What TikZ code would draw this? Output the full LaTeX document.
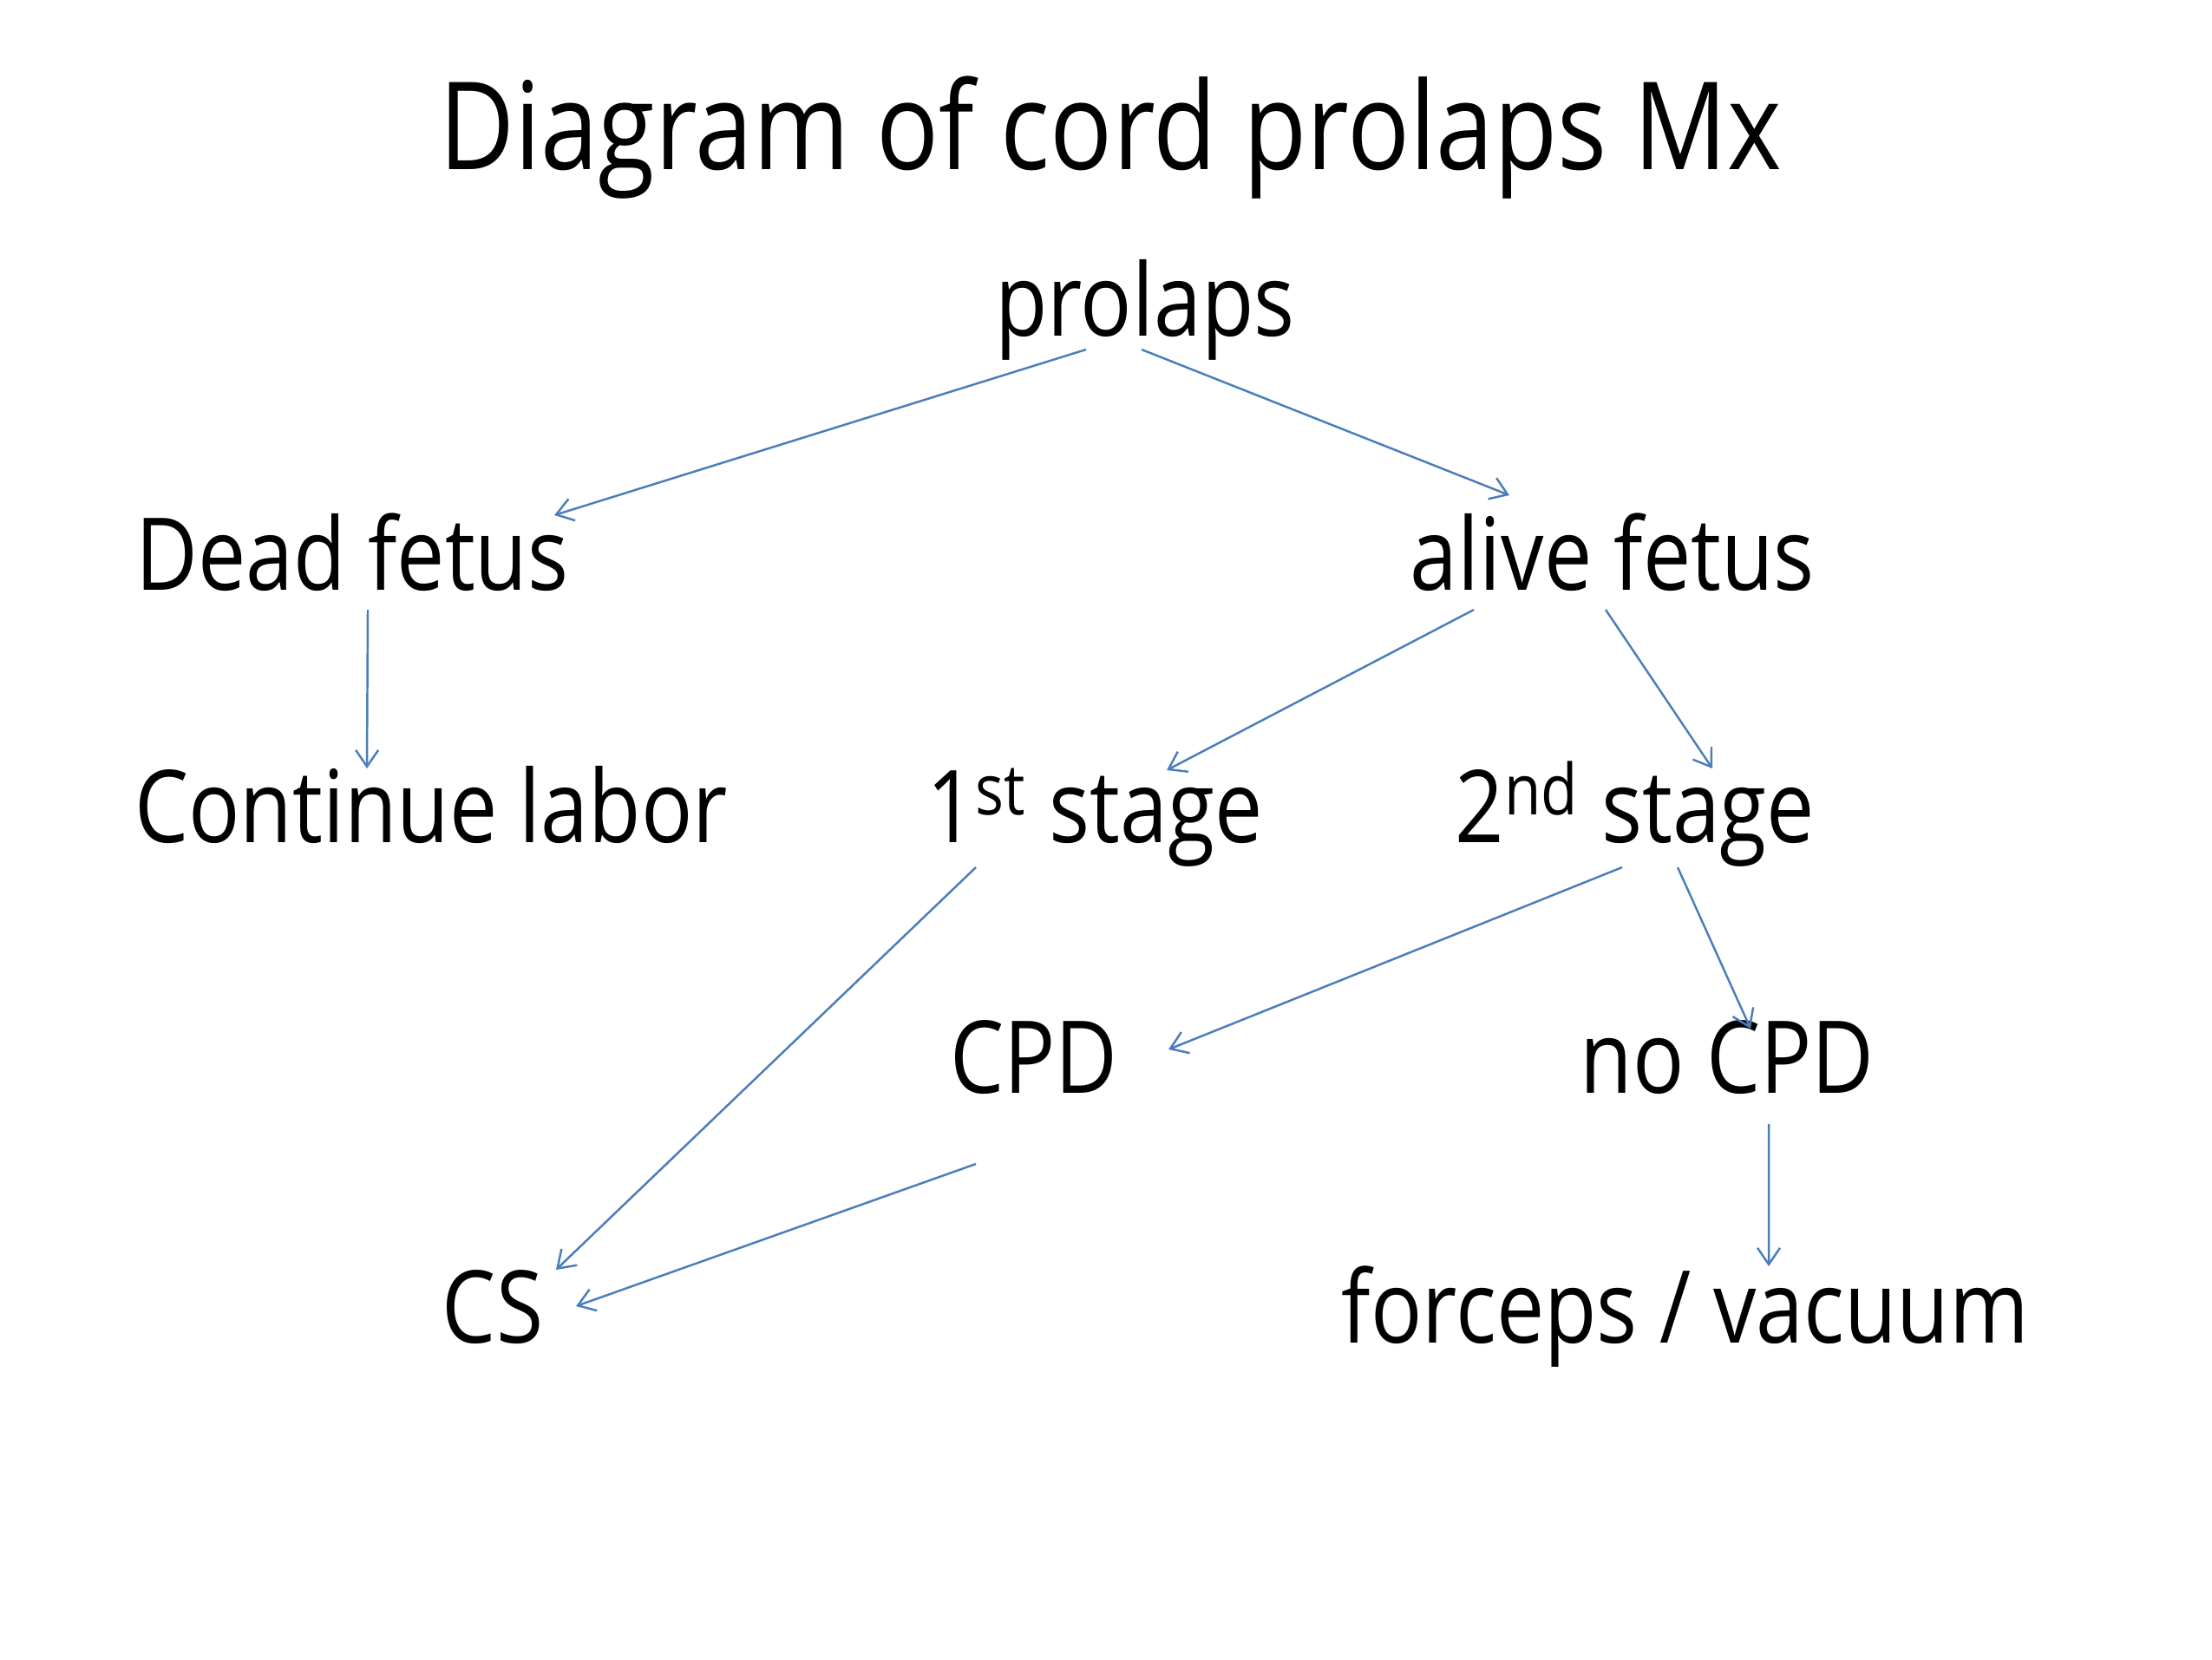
\documentclass[tikz,border=0pt]{standalone}
\usepackage{fontspec}
\setmainfont{Open Sans}[FakeStretch=0.85]
\usepackage{tikz}
\usetikzlibrary{arrows.meta, calc}
\definecolor{myblue}{RGB}{74,126,187}
\definecolor{mydark}{RGB}{0,0,0}
\tikzset{
  titletext/.style={anchor=base, inner sep=0pt, text=mydark,
    font=\fontsize{40}{48}\selectfont},
  stepnode/.style={anchor=base, inner sep=0pt, text=mydark,
    font=\fontsize{33}{40}\selectfont},
  arrow/.style={-{Straight Barb[length=1.9mm, width=2.6mm]}, line width=0.7pt, color=myblue}
}

\begin{document}
\begin{tikzpicture}
  \useasboundingbox (0,0) rectangle (25.5,-19.13);

  \node[titletext] (title) at (12.80, -1.95) {Diagram of cord prolaps Mx};

  \node[stepnode] (prolaps)  at (13.20, -3.87)  {prolaps};
  \node[stepnode] (dead)     at (4.06,  -6.80)  {Dead fetus};
  \node[stepnode] (alive)    at (18.59, -6.80)  {alive fetus};
  \node[stepnode] (continue) at (4.97,  -9.71)  {Continue labor};
  \node[stepnode] (first)    at (12.62, -9.71)  {1\textsuperscript{st} stage};
  \node[stepnode] (second)   at (18.85, -9.71)  {2\textsuperscript{nd} stage};
  \node[stepnode] (cpd)      at (11.92, -12.60) {CPD};
  \node[stepnode] (nocpd)    at (19.91, -12.60) {no CPD};
  \node[stepnode] (cs)       at (5.68,  -15.48) {CS};
  \node[stepnode] (forceps)  at (19.43, -15.48) {forceps / vacuum};

  \draw[arrow] ($(prolaps.base)+(-0.68,-0.16)$) -- ($(dead.base)+(2.33,0.86)$);
  \draw[arrow] ($(prolaps.base)+(-0.04,-0.16)$) -- ($(alive.base)+(-1.19,1.09)$);
  \draw[arrow] ($(dead.base)+(0.18,-0.23)$) -- ($(continue.base)+(-0.74,0.85)$);
  \draw[arrow] ($(alive.base)+(-1.60,-0.23)$) -- ($(first.base)+(0.83,0.83)$);
  \draw[arrow] ($(alive.base)+(-0.08,-0.23)$) -- ($(second.base)+(0.89,0.85)$);
  \draw[arrow] ($(first.base)+(-1.37,-0.29)$) -- ($(cs.base)+(0.73,0.84)$);
  \draw[arrow] ($(second.base)+(-0.15,-0.29)$) -- ($(cpd.base)+(1.55,0.50)$);
  \draw[arrow] ($(second.base)+(0.49,-0.29)$) -- ($(nocpd.base)+(0.27,0.74)$);
  \draw[arrow] ($(cpd.base)+(-0.67,-0.82)$) -- ($(cs.base)+(0.96,0.42)$);
  \draw[arrow] ($(nocpd.base)+(0.48,-0.36)$) -- ($(forceps.base)+(0.96,0.88)$);
\end{tikzpicture}
\end{document}
